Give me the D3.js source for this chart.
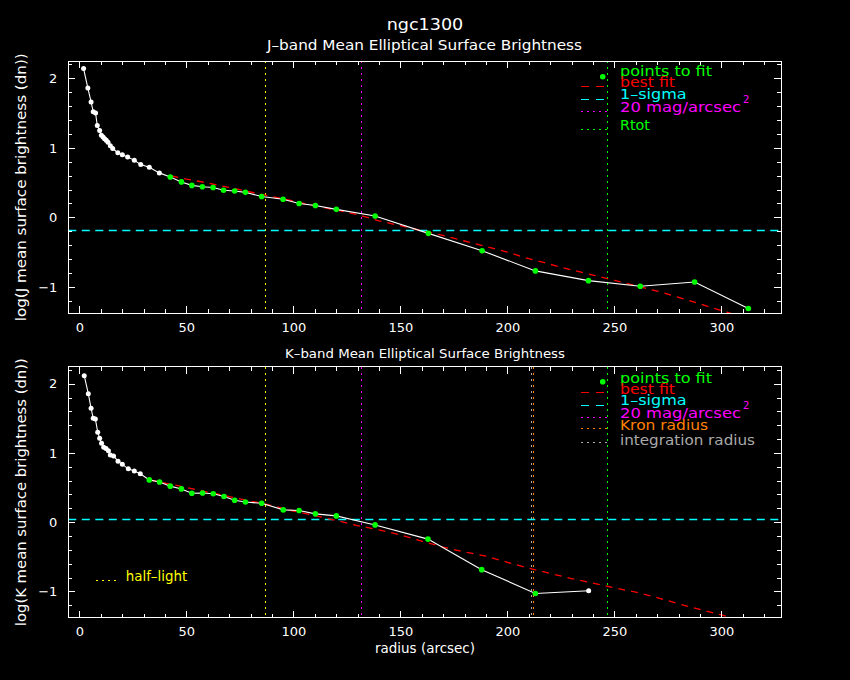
<!DOCTYPE html>
<html>
<head>
<meta charset="utf-8">
<script src="https://cdn.jsdelivr.net/npm/d3@7"></script>
<style>
    body {margin: 0; background: #000;}
    svg {display: block; background: #000;}
    text {font-family: "DejaVu Sans", sans-serif; fill: #fff;}
</style>
</head>
<body>
<div id="chart"></div>
<script>
// J band profile
const jRadius = [2.0, 4.0, 5.5, 6.5, 7.6, 8.4, 9.5, 10.3, 11.1, 11.8, 12.6, 13.4, 14.5, 15.6, 18.0, 20.1, 22.6, 25.7, 28.7, 32.7, 37.4,
    42.5, 47.7, 52.6, 57.5, 62.5, 67.4, 72.6, 77.6, 85.2, 95.2, 102.7, 110.3, 120.1, 138.2, 163.1, 188.2, 213.1, 237.9, 262.1, 287.5, 312.6];
const jLog = [2.14, 1.86, 1.66, 1.52, 1.50, 1.32, 1.25, 1.18, 1.155, 1.13, 1.11, 1.08, 1.03, 0.99, 0.93, 0.90, 0.87, 0.82, 0.76, 0.72, 0.64,
    0.58, 0.51, 0.46, 0.44, 0.43, 0.39, 0.38, 0.36, 0.30, 0.26, 0.20, 0.17, 0.115, 0.02, -0.23, -0.48, -0.77, -0.91, -0.99, -0.93, -1.31];
const jFitFrom = 21, jFitTo = 41;
const jFitRadius = [43, 50, 60, 70, 80, 90, 100, 110, 120, 130, 140, 150, 160, 170, 180, 190, 200, 210, 220, 230, 240, 250, 260, 270, 280, 290, 300, 310];
const jFitLog = [0.595, 0.55, 0.495, 0.43, 0.365, 0.30, 0.235, 0.165, 0.105, 0.04, -0.05, -0.12, -0.19, -0.26, -0.34, -0.42, -0.50, -0.595,
    -0.675, -0.755, -0.83, -0.905, -0.985, -1.06, -1.15, -1.245, -1.34, -1.435];
const jSigma = -0.19;

// K band profile
const kRadius = [2.3, 4.2, 5.5, 6.5, 7.5, 8.6, 9.5, 10.4, 11.4, 12.5, 13.6, 14.5, 16.0, 18.1, 20.1, 22.9, 25.7, 28.5,
    32.7, 37.5, 42.5, 47.7, 52.6, 57.6, 62.6, 67.6, 72.6, 77.6, 85.2, 95.3, 102.7, 110.3, 120.1, 138.2, 162.9, 188.0, 213.1, 238.0];
const kLog = [2.115, 1.856, 1.645, 1.50, 1.49, 1.30, 1.21, 1.14, 1.08, 1.065, 1.03, 0.97, 0.955, 0.88, 0.835, 0.77, 0.74, 0.70,
    0.61, 0.58, 0.52, 0.48, 0.417, 0.42, 0.41, 0.37, 0.317, 0.29, 0.273, 0.177, 0.168, 0.12, 0.09, -0.04, -0.245, -0.686, -1.03, -0.99];
const kFitFrom = 18, kFitTo = 36;
const kFitRadius = [33, 40, 50, 60, 70, 80, 90, 100, 110, 120, 130, 140, 150, 160, 170, 180, 190, 200, 210, 220, 230, 240, 250, 260, 270, 280, 290, 300, 310];
const kFitLog = [0.61, 0.565, 0.50, 0.435, 0.37, 0.305, 0.24, 0.16, 0.095, 0.025, -0.05, -0.11, -0.185, -0.275, -0.36, -0.43, -0.49, -0.58,
    -0.665, -0.74, -0.815, -0.88, -0.95, -1.01, -1.09, -1.18, -1.26, -1.34, -1.42];
const kSigma = 0.039;

// radii markers (arcsec)
const halfLightRadius = 87.1, mag20Radius = 131.9, rtotRadius = 246.9, kronRadius = 212.3, integrationRadius = 211.1;

const xTicks = [0, 50, 100, 150, 200, 250, 300];
const yTicks = [-1, 0, 1, 2];
const legendJ = ["points to fit", "best fit", "1–sigma", "20 mag/arcsec", "Rtot"];
const legendK = ["points to fit", "best fit", "1–sigma", "20 mag/arcsec", "Kron radius", "integration radius"];

const width = 850, height = 680;
const frameLeft = 68.3, frameRight = 781.3;
const col = {
    green: "#00ff00", red: "#ff0000", cyan: "#00ffff", magenta: "#ff00ff",
    yellow: "#ffff00", orange: "#ff8000", gray: "#aaaaaa"
};
const dashed = "7,6", sigmaDash = "8,5.5", dotted = "2,4";

const x = d3.scaleLinear().domain([-5.14, 328]).range([frameLeft, frameRight]);

const svg = d3.select("#chart").append("svg")
    .attr("width", width)
    .attr("height", height);

// snap a 1px line onto a pixel centre so it stays crisp
const snap = v => Math.floor(v) + 0.5;

function label(g, txt, px, py, size, len, color) {
    const t = g.append("text")
        .attr("x", px).attr("y", py)
        .attr("font-size", size)
        .text(txt);
    if (len) t.attr("textLength", len).attr("lengthAdjust", "spacingAndGlyphs");
    if (color) t.style("fill", color);
    return t;
}

function panel(p) {
    const y = d3.scaleLinear().domain([-1.38, 2.245]).range([p.bottom, p.top]);
    const g = svg.append("g");
    const clipId = "clip" + p.name;

    g.append("clipPath").attr("id", clipId)
        .append("rect")
        .attr("x", frameLeft).attr("y", p.top)
        .attr("width", frameRight - frameLeft).attr("height", p.bottom - p.top);

    const plot = g.append("g").attr("clip-path", "url(#" + clipId + ")");

    // vertical radius markers
    p.vlines.forEach(v => {
        plot.append("line")
            .attr("x1", snap(x(v.r))).attr("x2", snap(x(v.r)))
            .attr("y1", p.top).attr("y2", p.bottom)
            .attr("stroke", v.color).attr("stroke-dasharray", dotted)
            .attr("shape-rendering", "crispEdges");
    });

    // 1-sigma level
    plot.append("line")
        .attr("x1", frameLeft).attr("x2", frameRight)
        .attr("y1", snap(y(p.sigma))).attr("y2", snap(y(p.sigma)))
        .attr("stroke", col.cyan).attr("stroke-width", 1.3)
        .attr("stroke-dasharray", sigmaDash);

    // best fit
    const fit = p.fitR.map((r, i) => [r, p.fitV[i]]);
    plot.append("path")
        .datum(fit)
        .attr("fill", "none")
        .attr("stroke", col.red).attr("stroke-width", 1.3)
        .attr("stroke-dasharray", dashed)
        .attr("d", d3.line().x(d => x(d[0])).y(d => y(d[1])));

    // profile
    const pts = p.radius.map((r, i) => ({r, v: p.vals[i], fit: i >= p.fitFrom && i <= p.fitTo}));
    plot.append("path")
        .datum(pts)
        .attr("fill", "none")
        .attr("stroke", "#fff").attr("stroke-width", 1.1)
        .attr("d", d3.line().x(d => x(d.r)).y(d => y(d.v)));

    plot.selectAll("circle.pt")
        .data(pts)
        .enter().append("circle")
        .attr("class", "pt")
        .attr("cx", d => x(d.r))
        .attr("cy", d => y(d.v))
        .attr("r", d => d.fit ? 2.8 : 2.5)
        .attr("fill", d => d.fit ? col.green : "#fff");

    // axes: ticks point inward, like the original
    const minorX = d3.range(-0, 330, 10).filter(v => v % 50 !== 0);
    const minorY = d3.range(-6, 12).map(v => v / 5).filter(v => Math.abs(v - Math.round(v)) > 1e-6);

    const axes = [
        [d3.axisBottom(x).tickValues(xTicks).tickSize(-7).tickPadding(9).tickFormat(d3.format("d")), "translate(0," + p.bottom + ")"],
        [d3.axisBottom(x).tickValues(minorX).tickSize(-4).tickFormat(""), "translate(0," + p.bottom + ")"],
        [d3.axisTop(x).tickValues(xTicks).tickSize(-7).tickFormat(""), "translate(0," + p.top + ")"],
        [d3.axisTop(x).tickValues(minorX).tickSize(-4).tickFormat(""), "translate(0," + p.top + ")"],
        [d3.axisLeft(y).tickValues(yTicks).tickSize(-7).tickPadding(11).tickFormat(d3.format("d")), "translate(" + frameLeft + ",0)"],
        [d3.axisLeft(y).tickValues(minorY).tickSize(-4).tickFormat(""), "translate(" + frameLeft + ",0)"],
        [d3.axisRight(y).tickValues(yTicks).tickSize(-7).tickFormat(""), "translate(" + frameRight + ",0)"],
        [d3.axisRight(y).tickValues(minorY).tickSize(-4).tickFormat(""), "translate(" + frameRight + ",0)"]
    ];
    axes.forEach(([ax, tr]) => {
        const a = g.append("g").attr("transform", tr).call(ax);
        a.select(".domain").remove();
        a.selectAll("line").attr("stroke", "#fff").attr("shape-rendering", "crispEdges");
        a.selectAll("text").attr("font-size", 13).attr("font-family", "DejaVu Sans").style("fill", "#fff");
    });

    g.append("rect")
        .attr("x", snap(frameLeft)).attr("y", snap(p.top))
        .attr("width", Math.round(frameRight - frameLeft)).attr("height", Math.round(p.bottom - p.top))
        .attr("fill", "none").attr("stroke", "#fff").attr("stroke-width", 1.2)
        .attr("shape-rendering", "crispEdges");

    // y label
    const mid = (p.top + p.bottom) / 2;
    label(g, p.ylabel, 0, 0, 14, 268)
        .attr("text-anchor", "middle")
        .attr("transform", "translate(26," + mid + ") rotate(-90)");

    // legend
    const lx0 = 580.7, lx1 = 610, tx = 620;
    p.legend.forEach((name, i) => {
        const e = p.legendStyle[i];
        const ty = p.top + e.ty, sy = p.top + e.sy;
        if (e.kind === "dot") {
            g.append("circle").attr("cx", 602.7).attr("cy", sy).attr("r", 2.8).attr("fill", e.color);
        } else {
            g.append("line")
                .attr("x1", lx0).attr("x2", lx1).attr("y1", snap(sy)).attr("y2", snap(sy))
                .attr("stroke", e.color).attr("stroke-width", e.kind === "dash" ? 1.3 : 1)
                .attr("stroke-dasharray", e.kind === "dash" ? "8,7" : dotted)
                .attr("shape-rendering", "crispEdges");
        }
        label(g, name, tx, ty, 14, e.len, e.color);
        if (e.sup) label(g, "2", 743, ty - 9, 10, null, e.color);
    });
}

const panels = [
    {
        name: "J", top: 61.3, bottom: 313.3,
        radius: jRadius, vals: jLog, fitFrom: jFitFrom, fitTo: jFitTo,
        fitR: jFitRadius, fitV: jFitLog, sigma: jSigma,
        ylabel: "log(J mean surface brightness (dn))",
        vlines: [
            {r: halfLightRadius, color: col.yellow},
            {r: mag20Radius, color: col.magenta},
            {r: rtotRadius, color: col.green}
        ],
        legend: legendJ,
        legendStyle: [
            {kind: "dot", color: col.green, ty: 14.4, sy: 15.4, len: 92},
            {kind: "dash", color: col.red, ty: 25.4, sy: 24.7, len: 55},
            {kind: "dash", color: col.cyan, ty: 37.2, sy: 37.7, len: 66.7},
            {kind: "dot-line", color: col.magenta, ty: 51, sy: 50.4, len: 121, sup: true},
            {kind: "dot-line", color: col.green, ty: 68.7, sy: 67.7, len: 30}
        ]
    },
    {
        name: "K", top: 366.7, bottom: 617.7,
        radius: kRadius, vals: kLog, fitFrom: kFitFrom, fitTo: kFitTo,
        fitR: kFitRadius, fitV: kFitLog, sigma: kSigma,
        ylabel: "log(K mean surface brightness (dn))",
        vlines: [
            {r: halfLightRadius, color: col.yellow},
            {r: mag20Radius, color: col.magenta},
            {r: integrationRadius, color: col.gray},
            {r: kronRadius, color: col.orange},
            {r: rtotRadius, color: col.green}
        ],
        legend: legendK,
        legendStyle: [
            {kind: "dot", color: col.green, ty: 16.3, sy: 15, len: 92},
            {kind: "dash", color: col.red, ty: 27.6, sy: 25.3, len: 55},
            {kind: "dash", color: col.cyan, ty: 37.8, sy: 38.3, len: 66.7},
            {kind: "dot-line", color: col.magenta, ty: 51.6, sy: 50.3, len: 121, sup: true},
            {kind: "dot-line", color: col.orange, ty: 63.3, sy: 61.3, len: 88},
            {kind: "dot-line", color: col.gray, ty: 78.3, sy: 75.3, len: 135}
        ]
    }
];

panels.forEach(panel);

// titles
label(svg, "ngc1300", 425, 30, 16, 76.6).attr("text-anchor", "middle");
label(svg, "J–band Mean Elliptical Surface Brightness", 424.5, 50.3, 14, 315).attr("text-anchor", "middle");
label(svg, "K–band Mean Elliptical Surface Brightness", 425, 357.5, 12.5, 280).attr("text-anchor", "middle");
label(svg, "radius (arcsec)", 425, 652.5, 14, 100).attr("text-anchor", "middle");

// half-light key inside the K panel
svg.append("line")
    .attr("x1", 95.7).attr("x2", 117).attr("y1", 580.5).attr("y2", 580.5)
    .attr("stroke", col.yellow).attr("stroke-dasharray", dotted)
    .attr("shape-rendering", "crispEdges");
label(svg, "half–light", 125.7, 581, 14, 61.6, col.yellow);
</script>
</body>
</html>
